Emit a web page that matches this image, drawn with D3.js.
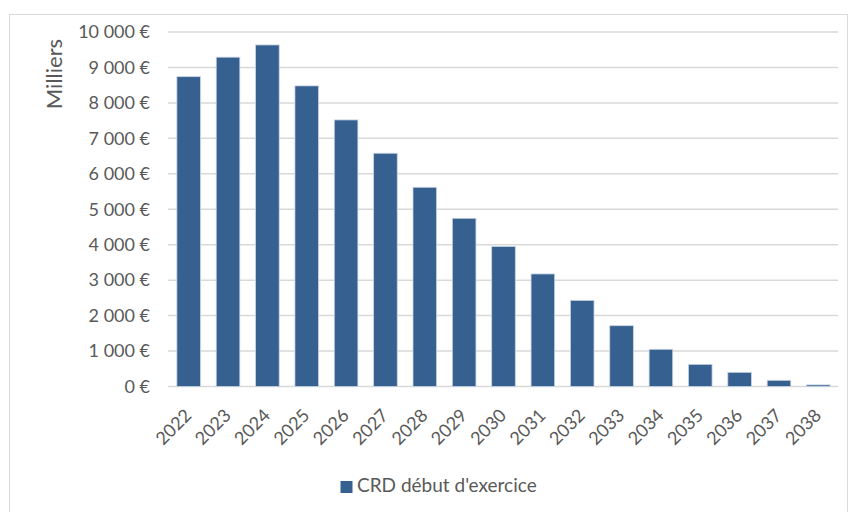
<!DOCTYPE html>
<html><head><meta charset="utf-8">
<script src="https://cdn.jsdelivr.net/npm/d3@7"></script>
<style>body{margin:0;background:#fff}svg{display:block}</style>
</head><body>
<svg id="c" width="849" height="512"></svg>
<script>
const years = ["2022","2023","2024","2025","2026","2027","2028","2029","2030","2031","2032","2033","2034","2035","2036","2037","2038"];
const crd = [8740,9290,9635,8480,7520,6580,5620,4745,3950,3175,2430,1715,1050,625,400,175,45];
const yTicks = [0,1000,2000,3000,4000,5000,6000,7000,8000,9000,10000];
const seriesName = "CRD début d'exercice";
const axisTitle = "Milliers";

const svg = d3.select("#c");
const font = "Lato, 'Open Sans', sans-serif";
const gray = "#595959";

// chart frame
svg.append("rect").attr("x",9.5).attr("y",14.5).attr("width",838).attr("height",520)
  .attr("fill","#fff").attr("stroke","#d9d9d9").attr("stroke-width",1);

const x = d3.scaleBand().domain(years).range([169,838]).paddingInner(0.4).paddingOuter(0.2);
const y = d3.scaleLinear().domain([0,10000]).range([386.5,32]);

const fmt = v => d3.format(",")(v).replace(/,/g,"\u00a0") + "\u00a0€";

// gridlines
svg.append("g").selectAll("line").data(yTicks).join("line")
  .attr("x1",168).attr("x2",838)
  .attr("y1",d=>y(d)).attr("y2",d=>y(d))
  .attr("stroke","#d9d9d9").attr("stroke-width",1.5);

// y axis labels
const ya = svg.append("g").attr("transform","translate(150,0)")
  .call(d3.axisLeft(y).tickValues(yTicks).tickSize(0).tickPadding(0).tickFormat(fmt));
ya.select(".domain").remove();
ya.selectAll("text").attr("font-family",font).attr("font-size",18).attr("fill",gray);

// bars
svg.append("g").selectAll("rect").data(years).join("rect")
  .attr("x",d=>x(d)).attr("width",x.bandwidth())
  .attr("y",(d,i)=>y(crd[i])).attr("height",(d,i)=>y(0)-y(crd[i]))
  .attr("fill","#36608f").attr("stroke","#c9d5e4").attr("stroke-width",0.8);

// x axis labels
const xa = svg.append("g").attr("transform",`translate(0,${y(0)})`)
  .call(d3.axisBottom(x).tickSize(0).tickPadding(0));
xa.select(".domain").remove();
xa.selectAll("text")
  .attr("font-family",font).attr("font-size",18).attr("fill",gray)
  .attr("text-anchor","end")
  .attr("x",0).attr("y",0).attr("dy",0)
  .attr("transform","translate(4,30) rotate(-45)");

// axis title
svg.append("text").attr("transform","translate(62,74) rotate(-90)")
  .attr("text-anchor","middle").attr("font-family",font).attr("font-size",22)
  .attr("fill",gray).text(axisTitle);

// legend
const lg = svg.append("g");
lg.append("rect").attr("x",340.5).attr("y",481).attr("width",12).attr("height",12).attr("fill","#36608f");
lg.append("text").attr("x",357).attr("y",492).attr("font-family",font).attr("font-size",19)
  .attr("fill",gray).text(seriesName);
</script>
</body></html>
